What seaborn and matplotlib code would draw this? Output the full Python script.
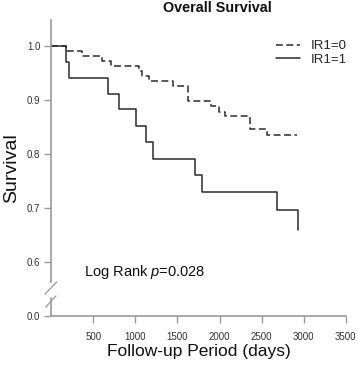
import numpy as np
import pandas as pd
import seaborn as sns
import matplotlib.pyplot as plt
from matplotlib.lines import Line2D

# survival steps
t_ir0 = [0, 180, 362, 605, 715, 1040, 1076, 1166, 1445, 1630, 1900, 1996, 2067, 2365, 2563, 2920]
s_ir0 = [1.0, 0.990, 0.981, 0.972, 0.962, 0.953, 0.943, 0.934, 0.925, 0.897, 0.888, 0.878, 0.869, 0.845, 0.835, 0.835]

t_ir1 = [0, 175, 214, 679, 802, 1008, 1127, 1206, 1710, 1790, 2683, 2928]
s_ir1 = [1.0, 0.970, 0.941, 0.911, 0.882, 0.852, 0.822, 0.791, 0.761, 0.729, 0.696, 0.659]

groups = ['IR1=0', 'IR1=1']
x_ticks = [500, 1000, 1500, 2000, 2500, 3000, 3500]
y_ticks = [0.5, 0.6, 0.7, 0.8, 0.9, 1.0]
y_ticklabels = ['0.0', '0.6', '0.7', '0.8', '0.9', '1.0']
p_text = 'Log Rank $p$=0.028'

sns.set_style('ticks')
plt.rcParams['font.family'] = ['Liberation Sans', 'DejaVu Sans']
plt.rcParams['mathtext.fontset'] = 'custom'
plt.rcParams['mathtext.rm'] = 'Liberation Sans'
plt.rcParams['mathtext.it'] = 'Liberation Sans:italic'

W, H = 358, 365
fig = plt.figure(figsize=(W / 100, H / 100), dpi=100)
ax = fig.add_axes([51.3 / W, 1 - 315.7 / H, (345.7 - 51.3) / W, (315.7 - 20) / H])

line_col = '#2b2b2b'
axis_col = '#9a9a9a'

df0 = pd.DataFrame({'t': t_ir0, 's': s_ir0})
df1 = pd.DataFrame({'t': t_ir1, 's': s_ir1})
sns.lineplot(data=df0, x='t', y='s', ax=ax, estimator=None, drawstyle='steps-post',
             color=line_col, linewidth=1.1, dashes=False, linestyle=(0, (4.5, 2.3)))
sns.lineplot(data=df1, x='t', y='s', ax=ax, estimator=None, drawstyle='steps-post',
             color=line_col, linewidth=1.1)

ax.set_xlim(0, 3500)
ax.set_ylim(0.5, 1.0476)
ax.set_xticks(x_ticks)
ax.set_xticklabels([str(v) for v in x_ticks])
ax.set_yticks(y_ticks)
ax.set_yticklabels(y_ticklabels)
ax.tick_params(axis='both', colors=axis_col, labelcolor='#333333', labelsize=7, length=5, width=1)
ax.tick_params(axis='x', pad=7)
ax.tick_params(axis='y', pad=3)

for side in ['top', 'right']:
    ax.spines[side].set_visible(False)
for side in ['left', 'bottom']:
    ax.spines[side].set_color(axis_col)
    ax.spines[side].set_linewidth(1.2)

# broken y axis
ax.spines['left'].set_bounds(0.563, 1.0476)
ax.plot([0, 0], [0.5, 0.533], color=axis_col, lw=1.2, clip_on=False)
ax.plot([-75, 65], [0.540, 0.5625], color=axis_col, lw=0.9, clip_on=False)
ax.plot([-65, 55], [0.516, 0.5365], color=axis_col, lw=0.9, clip_on=False)

ax.set_xlabel('Follow-up Period (days)', fontsize=12.5, labelpad=1, color='#111111')
ax.set_ylabel('Survival', fontsize=14, labelpad=5, color='#111111')

ax.text(393, 0.5815, p_text, fontsize=10.5, va='center', ha='left', color='#111111')

fig.text(217.5 / W, 1 - 7.5 / H, 'Overall Survival', ha='center', va='center',
         fontsize=10.4, fontweight='bold', color='#111111')

handles = [Line2D([], [], color=line_col, lw=1.1, linestyle=(0, (4.5, 2.3))),
           Line2D([], [], color=line_col, lw=1.1)]
ax.legend(handles, groups, loc='upper left', bbox_to_anchor=(276 / W, 1 - 40 / H),
          bbox_transform=fig.transFigure, frameon=False, fontsize=9.5,
          handlelength=1.85, handletextpad=0.8, labelspacing=0.1,
          borderpad=0, borderaxespad=0)

fig.savefig('out.png', dpi=100)
